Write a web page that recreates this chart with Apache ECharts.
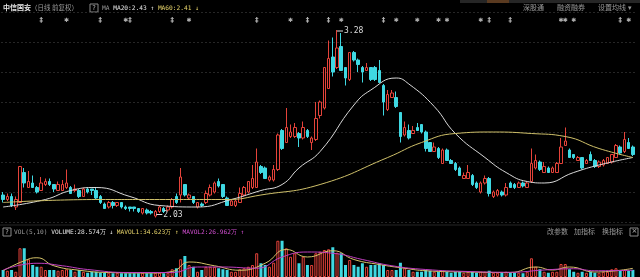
<!DOCTYPE html>
<html>
<head>
<meta charset="utf-8">
<script src="https://cdn.jsdelivr.net/npm/echarts@6/dist/echarts.min.js"></script>
<style>
  html, body { margin: 0; padding: 0; background: #000; }
  #chart { width: 640px; height: 277px; }
</style>
</head>
<body>
<div id="chart"></div>
<script>
// 日K数据 [开, 收, 低, 高]
const kline = [
  [2.18,2.15,2.13,2.20],[2.15,2.17,2.14,2.19],[2.17,2.11,2.10,2.19],[2.10,2.15,2.08,2.17],[2.13,2.37,2.13,2.37],
  [2.33,2.26,2.23,2.36],[2.23,2.27,2.23,2.34],[2.26,2.23,2.23,2.31],[2.23,2.20,2.19,2.24],[2.21,2.26,2.21,2.30],
  [2.25,2.27,2.24,2.29],[2.27,2.25,2.24,2.29],[2.25,2.22,2.20,2.25],[2.21,2.25,2.21,2.27],[2.21,2.25,2.21,2.28],
  [2.23,2.26,2.22,2.35],[2.23,2.19,2.19,2.24],[2.21,2.22,2.20,2.25],[2.21,2.17,2.16,2.22],[2.17,2.22,2.17,2.23],
  [2.22,2.20,2.19,2.23],[2.22,2.21,2.18,2.22],[2.21,2.16,2.15,2.23],[2.17,2.13,2.12,2.18],[2.12,2.09,2.09,2.13],
  [2.10,2.13,2.09,2.14],[2.13,2.11,2.09,2.14],[2.11,2.13,2.10,2.13],[2.13,2.10,2.09,2.13],[2.10,2.09,2.08,2.11],
  [2.10,2.09,2.07,2.10],[2.10,2.09,2.07,2.10],[2.09,2.07,2.06,2.09],[2.06,2.09,2.05,2.09],[2.08,2.06,2.05,2.09],
  [2.07,2.06,2.05,2.08],[2.04,2.07,2.03,2.08],[2.07,2.10,2.06,2.11],[2.09,2.07,2.06,2.10],[2.08,2.10,2.07,2.11],
  [2.10,2.15,2.09,2.16],[2.17,2.13,2.12,2.19],[2.18,2.30,2.13,2.36],[2.25,2.18,2.17,2.25],[2.16,2.18,2.15,2.19],
  [2.17,2.13,2.12,2.17],[2.10,2.13,2.09,2.13],[2.12,2.11,2.10,2.13],[2.13,2.19,2.12,2.21],[2.18,2.23,2.17,2.25],
  [2.20,2.26,2.19,2.27],[2.27,2.24,2.23,2.29],[2.25,2.17,2.16,2.25],[2.16,2.11,2.11,2.17],[2.11,2.14,2.11,2.15],
  [2.11,2.14,2.10,2.15],[2.13,2.19,2.13,2.23],[2.18,2.23,2.17,2.24],[2.20,2.27,2.19,2.27],[2.23,2.29,2.22,2.38],
  [2.23,2.40,2.23,2.49],[2.37,2.33,2.32,2.38],[2.36,2.29,2.29,2.37],[2.28,2.30,2.27,2.31],[2.28,2.35,2.27,2.38],
  [2.35,2.58,2.34,2.59],[2.61,2.49,2.48,2.62],[2.53,2.63,2.53,2.76],[2.57,2.60,2.56,2.65],[2.57,2.63,2.56,2.66],
  [2.59,2.56,2.50,2.60],[2.56,2.63,2.55,2.67],[2.61,2.57,2.56,2.62],[2.53,2.56,2.48,2.57],[2.55,2.69,2.54,2.80],
  [2.71,2.80,2.69,2.81],[2.76,3.03,2.75,3.03],[2.89,3.09,2.89,3.21],[3.10,3.00,2.97,3.23],[3.03,3.16,3.02,3.28],
  [3.17,3.01,3.01,3.26],[3.03,2.96,2.91,3.03],[2.95,3.13,2.94,3.13],[3.13,3.08,3.07,3.14],[3.08,3.05,3.00,3.09],
  [3.03,3.00,2.93,3.04],[3.01,3.03,3.01,3.06],[3.03,2.95,2.94,3.03],[3.03,2.95,2.94,3.04],[3.01,2.93,2.93,3.08],
  [2.91,2.80,2.71,2.92],[2.75,2.85,2.74,2.88],[2.83,2.86,2.83,2.88],[2.83,2.77,2.76,2.87],[2.73,2.57,2.53,2.73],
  [2.58,2.63,2.57,2.67],[2.61,2.56,2.55,2.65],[2.59,2.61,2.59,2.64],[2.63,2.61,2.61,2.66],[2.65,2.60,2.59,2.65],
  [2.60,2.49,2.47,2.61],[2.53,2.47,2.47,2.53],[2.47,2.50,2.47,2.53],[2.49,2.43,2.42,2.50],[2.39,2.48,2.39,2.49],
  [2.48,2.41,2.41,2.49],[2.41,2.39,2.39,2.42],[2.39,2.35,2.34,2.40],[2.36,2.31,2.31,2.37],[2.29,2.31,2.29,2.33],
  [2.29,2.33,2.29,2.38],[2.31,2.25,2.24,2.32],[2.26,2.23,2.22,2.27],[2.20,2.26,2.19,2.27],[2.26,2.29,2.25,2.31],
  [2.29,2.19,2.17,2.30],[2.17,2.20,2.16,2.21],[2.18,2.21,2.17,2.22],[2.20,2.18,2.17,2.21],[2.18,2.23,2.17,2.26],
  [2.26,2.23,2.23,2.27],[2.25,2.23,2.22,2.26],[2.23,2.26,2.23,2.27],[2.26,2.24,2.23,2.27],[2.23,2.26,2.23,2.27],
  [2.27,2.39,2.26,2.49],[2.36,2.41,2.35,2.45],[2.40,2.35,2.34,2.41],[2.33,2.37,2.33,2.40],[2.36,2.33,2.33,2.37],
  [2.33,2.36,2.33,2.37],[2.33,2.39,2.33,2.40],[2.39,2.50,2.39,2.56],[2.51,2.54,2.51,2.63],[2.48,2.43,2.43,2.49],
  [2.45,2.43,2.42,2.45],[2.41,2.43,2.41,2.44],[2.43,2.36,2.35,2.43],[2.39,2.41,2.39,2.42],[2.45,2.41,2.41,2.47],
  [2.41,2.37,2.36,2.42],[2.37,2.40,2.36,2.41],[2.38,2.41,2.37,2.42],[2.39,2.43,2.39,2.43],[2.40,2.45,2.39,2.45],
  [2.43,2.51,2.43,2.52],[2.50,2.46,2.45,2.51],[2.47,2.55,2.46,2.60],[2.53,2.49,2.49,2.56],[2.50,2.45,2.44,2.51]
];

// 成交量（万）
const volumes = [
  28,25,28,21,115,115,71,48,41,41, 28,28,28,25,28,31,28,21,28,21,
  17,21,21,17,17,17,15,17,15,15, 15,15,15,17,15,15,17,17,15,17,
  31,35,71,84,48,41,21,28,41,41, 41,35,31,28,21,21,31,35,41,48,
  95,55,48,41,57,145,145,115,81,95, 55,81,48,48,95,101,108,111,119,97,
  95,48,68,48,41,55,41,48,48,55, 48,28,28,28,57,35,28,21,21,21,
  28,25,21,21,25,21,17,21,21,17, 21,21,17,21,21,25,17,17,17,21,
  17,17,17,15,21,75,41,31,21,17, 21,21,52,52,31,21,17,21,17,21,
  17,17,21,21,31,35,25,28,25,28.574
];

// 均线 [序号, 值]
const ma20 = [[0,2.10],[10,2.15],[16,2.21],[22,2.23],[30,2.17],[37,2.11],[46,2.10],[54,2.15],[61,2.21],
  [66,2.25],[70,2.36],[75,2.47],[83,2.78],[87,2.88],[93,2.96],[96,2.92],[102,2.77],[107,2.59],[114,2.43],
  [119,2.33],[124,2.27],[128,2.26],[135,2.33],[141,2.38],[149,2.43]];
const ma60 = [[0,2.13],[23,2.15],[37,2.15],[53,2.15],[61,2.18],[75,2.25],[91,2.43],[99,2.53],[107,2.59],
  [116,2.60],[125,2.59],[133,2.57],[141,2.49],[149,2.43]];
const mavol1 = [[0,25],[5,65],[8,77],[12,45],[18,27],[25,18],[35,16],[40,22],[44,60],[50,45],[56,27],[62,55],
  [67,110],[72,80],[78,105],[83,70],[89,50],[95,35],[100,25],[110,20],[120,18],[126,40],[130,28],[134,40],[140,20],[149,34.6]];
const mavol2 = [[0,28],[8,55],[14,45],[20,30],[30,18],[40,18],[46,40],[52,40],[60,35],[66,80],[72,100],[78,95],
  [85,70],[92,45],[100,30],[110,22],[120,19],[128,28],[135,33],[140,25],[149,27]];

// 信息地雷标记
const markDagger = [9, 23, 30, 40, 60, 72, 77, 90, 115, 120, 146];
const markStar = [15, 29, 44, 68, 80, 93, 98, 103, 105, 113, 132, 133, 135, 148];

const RED = '#e5433a';
const CYAN = '#3fd8e2';
const days = kline.map((_, i) => String(i));

const chart = echarts.init(document.getElementById('chart'));

// 最高最低点
let hiIdx = 0, loIdx = 0;
kline.forEach((k, i) => {
  if (k[3] > kline[hiIdx][3]) hiIdx = i;
  if (k[2] < kline[loIdx][2]) loIdx = i;
});

const volData = volumes.map((v, i) => {
  const up = kline[i][1] >= kline[i][0];
  return {
    value: v,
    itemStyle: up
      ? { color: '#000', borderColor: RED, borderWidth: 1 }
      : { color: CYAN, borderColor: CYAN, borderWidth: 0 }
  };
});

const mono = 'DejaVu Sans Mono';
const cjk = 'Noto Sans CJK SC';

const xAxisBase = {
  type: 'category', data: days, boundaryGap: true,
  axisLine: { show: false }, axisTick: { show: false }, axisLabel: { show: false }, splitLine: { show: false }
};

function markerSeries(list, glyph, size) {
  return {
    type: 'scatter', xAxisIndex: 0, yAxisIndex: 0,
    symbol: 'circle', symbolSize: 5, silent: true,
    itemStyle: { color: 'rgba(0,0,0,0)' },
    data: list.map(i => [i, 0.5]),
    label: {
      show: true, position: 'inside', formatter: glyph,
      color: '#dcdcdc', fontSize: size, fontFamily: 'DejaVu Sans', fontWeight: 'bold'
    }
  };
}

function grayText(x, y, text) {
  return { type: 'text', left: x, top: y, style: { text: text, fontFamily: cjk, fontSize: 7, fill: '#9a9a9a' } };
}

const option = {
  backgroundColor: '#000',
  animation: false,
  grid: [
    { left: 1, right: 5, top: 14, height: 12 },
    { left: 1, right: 5, top: 12, height: 210 },
    { left: 1, right: 5, top: 240, height: 37 }
  ],
  xAxis: [
    Object.assign({ gridIndex: 0 }, xAxisBase),
    Object.assign({ gridIndex: 1 }, xAxisBase),
    Object.assign({ gridIndex: 2 }, xAxisBase)
  ],
  yAxis: [
    { gridIndex: 0, min: 0, max: 1, show: false },
    {
      gridIndex: 1, min: 2.0, max: 3.4, interval: 0.2,
      axisLine: { show: false }, axisTick: { show: false }, axisLabel: { show: false },
      splitLine: { show: true, lineStyle: { color: '#262626', type: [2, 2], width: 1 } }
    },
    { gridIndex: 2, min: 0, max: 148, show: false, splitLine: { show: false } }
  ],
  series: [
    markerSeries(markDagger, '‡', 7),
    markerSeries(markStar, '✱', 6),
    {
      type: 'candlestick', xAxisIndex: 1, yAxisIndex: 1,
      data: kline, barWidth: 3,
      itemStyle: { color: '#000', color0: CYAN, borderColor: RED, borderColor0: CYAN, borderWidth: 1 },
      markPoint: {
        symbol: 'rect', symbolSize: [6, 1], silent: true,
        itemStyle: { color: '#ddd' },
        label: { show: true, position: 'right', distance: 1, color: '#ddd', fontSize: 8, fontFamily: mono },
        data: [
          { coord: [hiIdx, kline[hiIdx][3]], value: kline[hiIdx][3].toFixed(2), symbolOffset: [3, 1] },
          { coord: [loIdx, kline[loIdx][2]], value: kline[loIdx][2].toFixed(2), symbolOffset: [4, -3] }
        ]
      }
    },
    {
      type: 'line', xAxisIndex: 1, yAxisIndex: 1, data: ma20, smooth: true, symbol: 'none',
      lineStyle: { color: '#d9d9d9', width: 1 }
    },
    {
      type: 'line', xAxisIndex: 1, yAxisIndex: 1, data: ma60, smooth: true, symbol: 'none',
      lineStyle: { color: '#cfc06a', width: 1 }
    },
    {
      type: 'bar', xAxisIndex: 2, yAxisIndex: 2, data: volData, barWidth: 3
    },
    {
      type: 'line', xAxisIndex: 2, yAxisIndex: 2, data: mavol1, smooth: true, symbol: 'none',
      lineStyle: { color: '#d6c46a', width: 1 }
    },
    {
      type: 'line', xAxisIndex: 2, yAxisIndex: 2, data: mavol2, smooth: true, symbol: 'none',
      lineStyle: { color: '#c03fc0', width: 1 }
    }
  ],
  graphic: [
    { type: 'rect', shape: { x: 460, y: 0, width: 180, height: 3 }, style: { fill: '#262626' } },
    { type: 'rect', shape: { x: 487, y: 0, width: 22, height: 3 }, style: { fill: '#5a3a20' } },
    { type: 'line', shape: { x1: 0, y1: 225, x2: 640, y2: 225 }, style: { stroke: '#262626', lineWidth: 1 } },
    {
      type: 'text', left: 3, top: 4,
      style: {
        text: '{n|中信国安}{g|（日线 前复权）}',
        rich: {
          n: { fontFamily: cjk, fontSize: 7, fontWeight: 'bold', fill: '#e6e6e6' },
          g: { fontFamily: cjk, fontSize: 6.5, fill: '#9a9a9a' }
        }
      }
    },
    { type: 'rect', shape: { x: 90, y: 4, width: 8, height: 8 }, style: { fill: 'none', stroke: '#8a8a8a', lineWidth: 1 } },
    { type: 'text', left: 92, top: 4.5, style: { text: '?', fontFamily: mono, fontSize: 6.5, fill: '#bbb' } },
    {
      type: 'text', left: 102, top: 5,
      style: {
        text: '{g|MA }{w|MA20:2.43 ↑ }{y|MA60:2.41 ↓}',
        rich: {
          g: { fontFamily: mono, fontSize: 6.2, fill: '#9a9a9a' },
          w: { fontFamily: mono, fontSize: 6.2, fill: '#e6e6e6' },
          y: { fontFamily: mono, fontSize: 6.2, fill: '#e6d36a' }
        }
      }
    },
    grayText(523, 4, '深股通'),
    grayText(557, 4, '融资融券'),
    grayText(598, 4, '设置均线 ▾'),
    { type: 'rect', shape: { x: 3, y: 228, width: 8, height: 8 }, style: { fill: 'none', stroke: '#8a8a8a', lineWidth: 1 } },
    { type: 'text', left: 5, top: 228.5, style: { text: '?', fontFamily: mono, fontSize: 6.5, fill: '#bbb' } },
    {
      type: 'text', left: 14, top: 229,
      style: {
        text: '{g|VOL(5,10) }{w|VOLUME:28.574万 ↓ }{y|MAVOL1:34.623万 ↑ }{m|MAVOL2:26.962万 ↑}',
        rich: {
          g: { fontFamily: mono, fontSize: 6.2, fill: '#9a9a9a' },
          w: { fontFamily: mono, fontSize: 6.2, fill: '#e6e6e6' },
          y: { fontFamily: mono, fontSize: 6.2, fill: '#e6d36a' },
          m: { fontFamily: mono, fontSize: 6.2, fill: '#d24fd2' }
        }
      }
    },
    grayText(547, 228, '改参数'),
    grayText(574, 228, '加指标'),
    grayText(602, 228, '换指标'),
    { type: 'rect', shape: { x: 630, y: 228, width: 8, height: 8 }, style: { fill: 'none', stroke: '#8a8a8a', lineWidth: 1 } },
    { type: 'text', left: 631.5, top: 228, style: { text: '×', fontFamily: 'DejaVu Sans', fontSize: 7, fill: '#bbb' } }
  ]
};

chart.setOption(option);
</script>
</body>
</html>
